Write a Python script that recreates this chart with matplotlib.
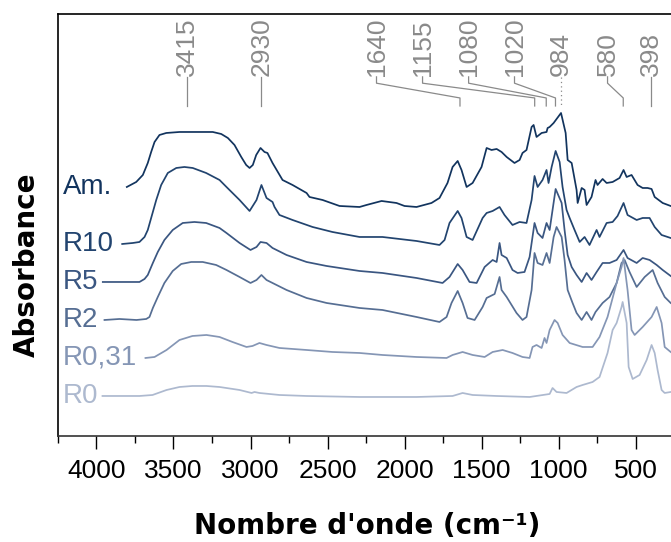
import matplotlib.pyplot as plt
import matplotlib.transforms as mtransforms

# IR spectra (wavenumber in cm-1, absorbance in arbitrary units, stacked)
wn_am = [3803, 3742, 3699, 3667, 3645, 3623, 3591, 3547, 3461, 3331, 3245, 3190, 3147, 3104,
         3060, 3028, 3006, 2985, 2963, 2935, 2909, 2890, 2857, 2792, 2727, 2636, 2617, 2532,
         2422, 2292, 2247, 2149, 2052, 2000, 1922, 1825, 1773, 1721, 1688, 1655, 1630, 1597,
         1558, 1500, 1467, 1435, 1402, 1370, 1337, 1286, 1253, 1234, 1208, 1175, 1162, 1143,
         1110, 1078, 1071, 1058, 1032, 984, 954, 941, 915, 883, 876, 850, 831, 818, 786, 760,
         747, 714, 688, 649, 604, 578, 558, 526, 487, 454, 422, 396, 376, 324, 272]
ab_am = [2.49, 2.54, 2.61, 2.73, 2.84, 2.94, 3.01, 3.03, 3.04, 3.04, 3.04, 3.02, 2.98, 2.91,
         2.79, 2.71, 2.68, 2.71, 2.81, 2.88, 2.84, 2.83, 2.73, 2.56, 2.51, 2.43, 2.39, 2.36,
         2.30, 2.29, 2.31, 2.35, 2.33, 2.30, 2.29, 2.33, 2.38, 2.53, 2.69, 2.75, 2.66, 2.49,
         2.53, 2.69, 2.88, 2.86, 2.87, 2.84, 2.79, 2.73, 2.76, 2.83, 2.86, 3.09, 3.11, 2.99,
         3.03, 3.04, 3.08, 3.09, 3.13, 3.23, 3.03, 2.76, 2.73, 2.46, 2.33, 2.48, 2.46, 2.31,
         2.39, 2.56, 2.51, 2.57, 2.53, 2.54, 2.58, 2.66, 2.59, 2.61, 2.51, 2.48, 2.48, 2.47,
         2.39, 2.33, 2.30]

wn_r10 = [3833, 3764, 3721, 3688, 3667, 3645, 3612, 3580, 3537, 3482, 3429, 3375, 3288, 3201,
          3156, 3071, 3006, 2961, 2929, 2896, 2857, 2844, 2812, 2727, 2597, 2468, 2292, 2143,
          1922, 1773, 1740, 1708, 1655, 1630, 1597, 1558, 1493, 1467, 1428, 1383, 1351, 1299,
          1253, 1208, 1175, 1156, 1136, 1104, 1078, 1065, 1045, 1019, 993, 974, 948, 928, 896,
          863, 831, 799, 753, 734, 688, 649, 617, 578, 552, 493, 454, 409, 376, 331, 272]
ab_r10 = [1.92, 1.93, 1.94, 1.99, 2.06, 2.18, 2.36, 2.51, 2.63, 2.68, 2.69, 2.68, 2.63, 2.56,
          2.49, 2.36, 2.25, 2.36, 2.51, 2.38, 2.34, 2.29, 2.21, 2.16, 2.09, 2.04, 1.99, 1.99,
          1.95, 1.91, 1.96, 2.13, 2.25, 2.18, 1.99, 1.96, 2.18, 2.23, 2.25, 2.29, 2.21, 2.11,
          2.14, 2.13, 2.36, 2.60, 2.49, 2.56, 2.66, 2.53, 2.69, 2.85, 2.74, 2.49, 2.26, 2.18,
          2.06, 1.94, 1.99, 1.91, 2.06, 1.99, 2.13, 2.14, 2.20, 2.33, 2.21, 2.16, 2.18, 2.18,
          2.09, 2.01, 1.98]

wn_r5 = [3959, 3721, 3688, 3667, 3634, 3602, 3559, 3505, 3440, 3364, 3288, 3201, 3156, 3071,
         3000, 2961, 2935, 2896, 2857, 2766, 2636, 2506, 2292, 2143, 1922, 1753, 1708, 1655,
         1623, 1578, 1532, 1480, 1428, 1402, 1383, 1370, 1337, 1299, 1266, 1221, 1188, 1156,
         1136, 1104, 1078, 1058, 1039, 1019, 980, 961, 941, 915, 883, 850, 818, 786, 753, 714,
         669, 623, 578, 552, 493, 454, 409, 363, 324, 272]
ab_r5 = [1.54, 1.54, 1.57, 1.61, 1.73, 1.84, 1.96, 2.06, 2.13, 2.14, 2.13, 2.08, 2.03, 1.93,
         1.86, 1.89, 1.94, 1.93, 1.88, 1.81, 1.74, 1.70, 1.65, 1.63, 1.58, 1.53, 1.59, 1.72,
         1.66, 1.54, 1.53, 1.69, 1.76, 1.74, 1.93, 1.81, 1.78, 1.66, 1.63, 1.64, 1.79, 2.13,
         2.03, 1.98, 2.13, 2.06, 2.26, 2.47, 2.33, 2.06, 1.81, 1.69, 1.61, 1.54, 1.63, 1.56,
         1.64, 1.73, 1.73, 1.76, 1.86, 1.78, 1.73, 1.78, 1.76, 1.71, 1.66, 1.60]

wn_r2 = [3948, 3851, 3740, 3677, 3656, 3634, 3602, 3559, 3505, 3450, 3385, 3310, 3223, 3156,
         3071, 3000, 2961, 2929, 2896, 2857, 2766, 2636, 2506, 2292, 2143, 1922, 1773, 1727,
         1695, 1655, 1623, 1591, 1545, 1493, 1467, 1415, 1383, 1370, 1337, 1273, 1234, 1208,
         1175, 1156, 1136, 1104, 1078, 1058, 1032, 1013, 980, 961, 941, 909, 883, 850, 818,
         786, 760, 714, 669, 623, 591, 571, 539, 493, 441, 389, 357, 311, 272]
ab_r2 = [1.16, 1.17, 1.16, 1.17, 1.19, 1.28, 1.39, 1.53, 1.65, 1.72, 1.74, 1.74, 1.71, 1.66,
         1.59, 1.53, 1.56, 1.61, 1.56, 1.53, 1.46, 1.38, 1.33, 1.28, 1.26, 1.19, 1.14, 1.19,
         1.33, 1.45, 1.33, 1.18, 1.16, 1.29, 1.38, 1.42, 1.59, 1.46, 1.39, 1.23, 1.16, 1.19,
         1.46, 1.83, 1.73, 1.71, 1.83, 1.73, 1.99, 2.09, 1.99, 1.76, 1.46, 1.33, 1.23, 1.16,
         1.24, 1.16, 1.24, 1.33, 1.39, 1.53, 1.73, 1.76, 1.64, 1.49, 1.59, 1.66, 1.53, 1.39,
         1.33]

wn_r031 = [3682, 3623, 3545, 3461, 3377, 3286, 3201, 3117, 3026, 2987, 2942, 2896, 2812, 2636,
           2468, 2292, 2143, 1922, 1727, 1688, 1623, 1558, 1480, 1428, 1363, 1299, 1234, 1188,
           1169, 1143, 1110, 1091, 1078, 1058, 1026, 1006, 974, 928, 844, 779, 734, 682, 623,
           591, 578, 552, 526, 506, 454, 396, 363, 331, 311, 272]
ab_r031 = [0.78, 0.79, 0.86, 0.96, 1.00, 1.01, 0.99, 0.94, 0.89, 0.90, 0.93, 0.91, 0.88, 0.86,
           0.84, 0.83, 0.81, 0.79, 0.78, 0.81, 0.84, 0.81, 0.79, 0.84, 0.86, 0.83, 0.79, 0.78,
           0.89, 0.91, 0.88, 0.98, 0.93, 1.06, 1.16, 1.13, 1.01, 0.93, 0.89, 0.89, 0.99, 1.19,
           1.53, 1.69, 1.78, 1.46, 1.06, 1.01, 1.09, 1.19, 1.29, 1.13, 0.89, 0.84]

wn_r0 = [3961, 3721, 3636, 3545, 3461, 3377, 3286, 3201, 3071, 2993, 2974, 2942, 2812, 2636,
         2292, 1922, 1688, 1623, 1558, 1402, 1188, 1058, 1039, 1013, 948, 883, 844, 779, 734,
         682, 649, 623, 591, 584, 558, 545, 519, 474, 428, 396, 376, 357, 331, 311, 272]
ab_r0 = [0.40, 0.40, 0.41, 0.46, 0.49, 0.50, 0.50, 0.49, 0.46, 0.43, 0.44, 0.43, 0.41, 0.40,
         0.39, 0.39, 0.40, 0.43, 0.41, 0.40, 0.39, 0.42, 0.48, 0.44, 0.43, 0.49, 0.51, 0.54, 0.59,
         0.83, 1.06, 1.13, 1.29, 1.34, 1.13, 0.69, 0.57, 0.61, 0.76, 0.91, 0.83, 0.66, 0.46, 0.43,
         0.44]

names = ['Am.', 'R10', 'R5', 'R2', 'R0,31', 'R0']
spectra = [(wn_am, ab_am), (wn_r10, ab_r10), (wn_r5, ab_r5),
           (wn_r2, ab_r2), (wn_r031, ab_r031), (wn_r0, ab_r0)]
colors = ['#12345e', '#22446f', '#3a5681', '#566e93', '#8596b5', '#adb9cf']

# band assignments: label, band position
band_labels = ['3415', '2930', '1640', '1155', '1080', '1020', '984', '580', '398']
band_pos = [3415, 2930, 1640, 1155, 1080, 1020, 984, 580, 398]
label_pos = [3415, 2930, 2182, 1883, 1584, 1286, 984, 682, 398]

fig = plt.figure(figsize=(6.71, 5.42), dpi=100)
ax = fig.add_axes([0.0864, 0.1956, 0.9136, 0.7786])

for (w, a), name, c in zip(spectra, names, colors):
    ax.plot(w, a, color=c, lw=1.25)
    ax.text(4220, a[0], name, color=c, fontsize=20, family='Liberation Sans',
            ha='left', va='center')

trans = mtransforms.blended_transform_factory(ax.transData, ax.transAxes)
for lab, bp, lp in zip(band_labels, band_pos, label_pos):
    ax.text(lp, 0.853, lab, transform=trans, rotation=90, ha='center', va='bottom',
            fontsize=19, color='#8a8a8a', family='Liberation Sans')
    if lab == '984':
        ax.plot([bp, bp], [0.851, 0.782], transform=trans, color='#8a8a8a', lw=0.9,
                ls=(0, (1, 2.5)), clip_on=False)
    elif lp == bp:
        ax.plot([lp, bp], [0.851, 0.782], transform=trans, color='#8a8a8a', lw=0.9,
                clip_on=False)
    else:
        ax.plot([lp, lp, bp, bp], [0.851, 0.836, 0.801, 0.782], transform=trans,
                color='#8a8a8a', lw=0.9, clip_on=False)

ax.set_xlim(4250, 270)
ax.set_ylim(0, 4.22)
ax.set_xticks([4000, 3500, 3000, 2500, 2000, 1500, 1000, 500])
ax.set_xticks([4250, 3750, 3250, 2750, 2250, 1750, 1250, 750], minor=True)
ax.set_yticks([])
ax.tick_params(axis='x', which='major', length=9.5, width=1, pad=7, labelsize=19)
ax.tick_params(axis='x', which='minor', length=5, width=1)
for lbl in ax.get_xticklabels():
    lbl.set_family('Liberation Sans')
ax.spines['right'].set_visible(False)
for s in ['left', 'top', 'bottom']:
    ax.spines[s].set_linewidth(1.2)
ax.spines['bottom'].set_color('#333333')

fig.text(0.547, 0.030, "Nombre d'onde (cm⁻¹)", ha='center', va='center',
         fontsize=20, fontweight='bold')
fig.text(0.040, 0.511, 'Absorbance', rotation=90, ha='center', va='center',
         fontsize=20, fontweight='bold')

fig.savefig('out.png', dpi=100)
